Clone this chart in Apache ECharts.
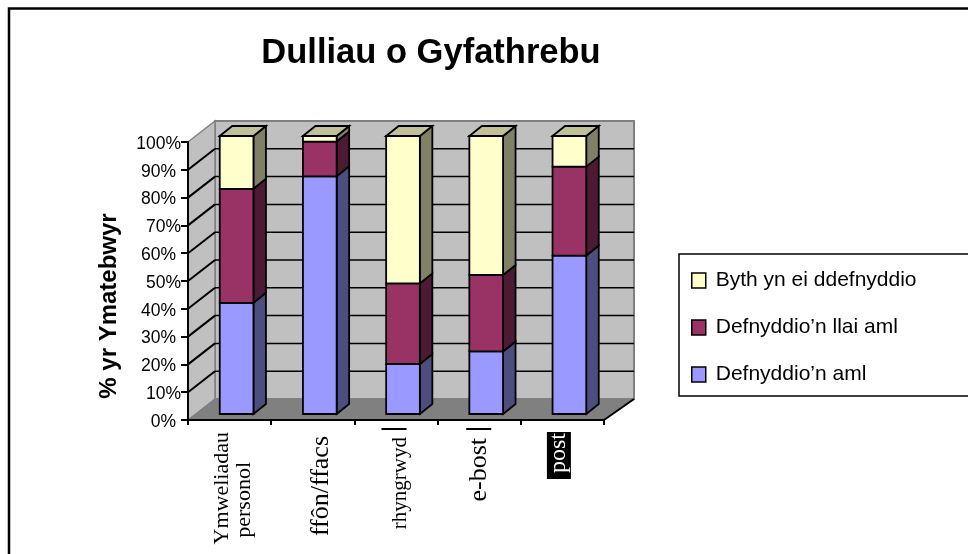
<!DOCTYPE html>
<html>
<head>
<meta charset="utf-8">
<style>html,body{margin:0;padding:0;background:#fff}#c{width:968px;height:554px}</style>
<script src="https://cdn.jsdelivr.net/npm/echarts@6/dist/echarts.min.js"></script>
</head>
<body>
<div id="c"></div>
<script>
var categories = ['Ymweliadau\npersonol', 'ffôn/ffacs', 'rhyngrwyd', 'e-bost', 'post'];
var aml = [40, 85.5, 18, 22.5, 57];
var llaiAml = [41, 12.5, 29, 27.5, 32];
var byth = [19, 2, 53, 50, 11];
var seriesNames = ['Defnyddio’n aml', 'Defnyddio’n llai aml', 'Byth yn ei ddefnyddio'];
var yTicks = [0, 10, 20, 30, 40, 50, 60, 70, 80, 90, 100];

var chart = echarts.init(document.getElementById('c'), null, {renderer: 'canvas'});

var DX = 27, DXR = 30, DY = -21, BX = 7, BY = -6, BDX = 12.5, BDY = -10, BLW = 1.8;
var BLACK = '#000';

function poly(pts, fill, stroke, lw) {
  return {type: 'polygon', shape: {points: pts},
    style: {fill: fill, stroke: stroke || null, lineWidth: lw || 0, lineJoin: 'miter'}};
}
function line(a, b, stroke, lw) {
  return {type: 'line', shape: {x1: a[0], y1: a[1], x2: b[0], y2: b[1]},
    style: {stroke: stroke, lineWidth: lw}};
}

function renderWalls(params, api) {
  var n = categories.length;
  var half = api.size([1, 0])[0] / 2;
  var x0 = api.coord([0, 0])[0] - half, x1 = api.coord([n - 1, 0])[0] + half;
  var y0 = api.coord([0, 0])[1], y1 = api.coord([0, 100])[1];
  return {type: 'group', children: [
    poly([[x0 + DX, y1 + DY], [x1 + DXR, y1 + DY], [x1 + DXR, y0 + DY], [x0 + DX, y0 + DY]], '#C0C0C0', '#808080', 2),
    poly([[x0, y1], [x0 + DX, y1 + DY], [x0 + DX, y0 + DY], [x0, y0]], '#C0C0C0', '#808080', 1.5),
    poly([[x0, y0], [x0 + DX, y0 + DY], [x1 + DXR, y0 + DY], [x1, y0]], '#808080', '#808080', 1),
    line([x1, y0], [x1 + DXR, y0 + DY], BLACK, 2)
  ]};
}

function renderGrid(params, api) {
  var n = categories.length;
  var half = api.size([1, 0])[0] / 2;
  var x0 = api.coord([0, 0])[0] - half, x1 = api.coord([n - 1, 0])[0] + half;
  var y = api.coord([0, api.value(1)])[1];
  return {type: 'group', children: [
    line([x0, y], [x0 + DX, y + DY], BLACK, 2),
    line([x0 + DX, y + DY], [x1 + DXR, y + DY], BLACK, 1.5)
  ]};
}

function makeBarRenderer(front, side, top) {
  return function (params, api) {
    var c = api.value(0);
    var w = api.size([1, 0])[0] * 0.405;
    var s = api.coord([c, api.value(1)]);
    var e = api.coord([c, api.value(2)]);
    var l = s[0] + BX - w / 2, r = l + w;
    var yb = s[1] + BY, yt = e[1] + BY;
    var kids = [
      poly([[r, yb], [r + BDX, yb + BDY], [r + BDX, yt + BDY], [r, yt]], side, BLACK, BLW),
      poly([[l, yb], [r, yb], [r, yt], [l, yt]], front, BLACK, BLW)
    ];
    if (top) {
      kids.push(poly([[l, yt], [l + BDX, yt + BDY], [r + BDX, yt + BDY], [r, yt]], top, BLACK, BLW));
    }
    return {type: 'group', children: kids};
  };
}

function stacked(values, below) {
  return values.map(function (v, i) {
    var base = 0;
    below.forEach(function (arr) { base += arr[i]; });
    return [i, base, base + v];
  });
}

var serif = 'Liberation Serif';
var labelRich = {
  a: {fontFamily: serif, fontSize: 22, lineHeight: 29, color: '#000', padding: [14, 0, 0, 0]},
  a2: {fontFamily: serif, fontSize: 22, lineHeight: 29, color: '#000'},
  gapA1: {width: 4},
  gapA2: {width: 34},
  b: {fontFamily: serif, fontSize: 26, color: '#000', padding: [16, 0, 0, 0]},
  gapB: {width: 8},
  c: {fontFamily: serif, fontSize: 21, color: '#000', padding: [8, 0, 0, 0]},
  gapC: {width: 7},
  d: {fontFamily: serif, fontSize: 26, color: '#000'},
  gapD: {width: 8},
  e: {fontFamily: serif, fontSize: 24, lineHeight: 25, color: '#fff', backgroundColor: '#000', padding: [0, 1, 0, 6], verticalAlign: 'top'},
  gapE: {width: 4, height: 31},
  bar: {width: 2, height: 25, backgroundColor: '#000', verticalAlign: 'top'}
};

var option = {
  animation: false,
  backgroundColor: '#fff',
  textStyle: {fontFamily: 'Liberation Sans'},
  title: {
    text: 'Dulliau o Gyfathrebu',
    left: 426, top: 31, textAlign: 'center',
    textStyle: {fontFamily: 'Liberation Sans', fontWeight: 'bold', fontSize: 34.5, color: '#000'}
  },
  legend: {
    orient: 'vertical',
    left: 679, top: 254,
    data: [seriesNames[2], seriesNames[1], seriesNames[0]],
    icon: 'rect',
    itemWidth: 14, itemHeight: 15, itemGap: 26,
    padding: [16, 100, 11, 12],
    borderColor: '#000', borderWidth: 1.5, backgroundColor: '#fff',
    selectedMode: false,
    itemStyle: {borderColor: '#000', borderWidth: 1.5},
    textStyle: {fontFamily: 'Liberation Sans', fontSize: 21, color: '#000', padding: [0, 0, 6, 5]}
  },
  grid: {left: 188, right: 364, top: 142, bottom: 134},
  xAxis: {
    type: 'category',
    data: categories,
    z: 3,
    axisLine: {lineStyle: {color: BLACK, width: 2}},
    axisTick: {show: true, alignWithLabel: false, length: 5, lineStyle: {color: BLACK, width: 2}},
    axisLabel: {
      rotate: 90, interval: 0, margin: 8,
      formatter: function (v, i) {
        if (i === 0) {
          var parts = v.split('\n');
          return '{a|' + parts[0] + '}{gapA1|}\n{a2|' + parts[1] + '}{gapA2|}';
        }
        if (i === 1) return '{b|' + v + '}{gapB|}';
        if (i === 2) return '{c|' + v + '}{gapC|}{bar|}';
        if (i === 3) return '{d|' + v + '}{gapD|}{bar|}';
        return '{e|' + v + '}{gapE|}';
      },
      rich: labelRich
    }
  },
  yAxis: {
    type: 'value',
    min: 0, max: 100, interval: 10,
    z: 3,
    name: '% yr Ymatebwyr',
    nameLocation: 'middle',
    nameGap: 67,
    nameTextStyle: {fontFamily: 'Liberation Sans', fontWeight: 'bold', fontSize: 24, color: '#000', padding: [0, 50, 0, 0]},
    axisLine: {show: true, lineStyle: {color: BLACK, width: 2}},
    axisTick: {show: true, length: 7, lineStyle: {color: BLACK, width: 2}},
    splitLine: {show: false},
    axisLabel: {
      margin: 7,
      formatter: function (v) {
        var near = v === 100 || v === 70 || v === 50 || v === 10;
        return '{' + (near ? 'n' : 'f') + '|' + v + '%}';
      },
      rich: {
        n: {fontFamily: 'Liberation Sans', fontSize: 17.5, color: '#000', padding: [4, 0, 0, 0]},
        f: {fontFamily: 'Liberation Sans', fontSize: 17.5, color: '#000', padding: [4, 5, 0, 0]}
      }
    }
  },
  series: [
    {type: 'custom', name: 'walls', z: 1, silent: true, data: [[0, 0]], renderItem: renderWalls,
      encode: {x: 0, y: 1}},
    {type: 'custom', name: 'grid', z: 1, silent: true,
      data: yTicks.slice(1, -1).map(function (t) { return [0, t]; }), renderItem: renderGrid,
      encode: {x: 0, y: 1}},
    {type: 'custom', name: seriesNames[0], z: 4, itemStyle: {color: '#9999FF'},
      renderItem: makeBarRenderer('#9999FF', '#4D4D80'),
      data: stacked(aml, []), encode: {x: 0, y: [1, 2]}},
    {type: 'custom', name: seriesNames[1], z: 4, itemStyle: {color: '#993366'},
      renderItem: makeBarRenderer('#993366', '#4D1A33'),
      data: stacked(llaiAml, [aml]), encode: {x: 0, y: [1, 2]}},
    {type: 'custom', name: seriesNames[2], z: 4, itemStyle: {color: '#FFFFCC'},
      renderItem: makeBarRenderer('#FFFFCC', '#808066', '#C0C099'),
      data: stacked(byth, [aml, llaiAml]), encode: {x: 0, y: [1, 2]}}
  ],
  graphic: [{
    type: 'rect', silent: true, z: 10,
    shape: {x: 9, y: 8.5, width: 1000, height: 600},
    style: {fill: null, stroke: '#000', lineWidth: 2.5}
  }]
};
chart.setOption(option);
</script>
</body>
</html>
